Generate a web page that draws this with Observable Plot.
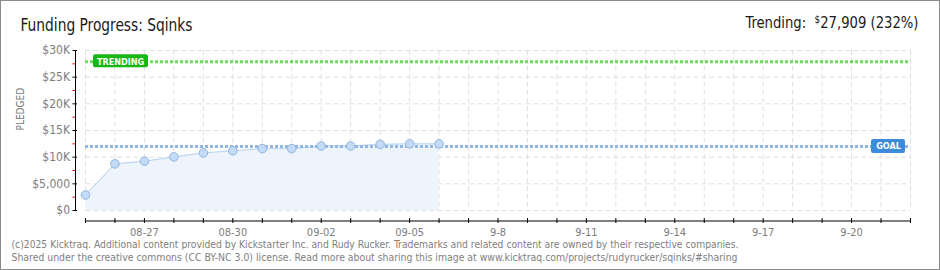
<!DOCTYPE html>
<html><head><meta charset="utf-8">
<script src="https://cdn.jsdelivr.net/npm/d3@7"></script>
<script src="https://cdn.jsdelivr.net/npm/@observablehq/plot@0.6"></script>
<style>
body{margin:0;background:#fff}
#wrap{position:relative;width:940px;height:270px;overflow:hidden}
#border{position:absolute;left:0;top:0;width:940px;height:270px;box-sizing:border-box;border:1px solid #8a8a8a;pointer-events:none}
</style>
</head><body>
<div id="wrap"><div id="chart"></div><div id="border"></div></div>
<script>
// ---- data ----
const dates = ["2025-08-25","2025-08-26","2025-08-27","2025-08-28","2025-08-29","2025-08-30","2025-08-31","2025-09-01","2025-09-02","2025-09-03","2025-09-04","2025-09-05","2025-09-06"];
const pledged = [2900, 8750, 9250, 10050, 10800, 11200, 11600, 11600, 12100, 12100, 12400, 12500, 12500];
const goalValue = 12000;
const trendingValue = 27909;
const trendingPercent = 232;
const campaignStart = "2025-08-25";
const campaignEnd = "2025-09-22";
const xLabelDates = ["2025-08-27","2025-08-30","2025-09-02","2025-09-05","2025-09-08","2025-09-11","2025-09-14","2025-09-17","2025-09-20"];
const xLabelTexts = ["08-27","08-30","09-02","09-05","9-8","9-11","9-14","9-17","9-20"];
const yTickValues = [0, 5000, 10000, 15000, 20000, 25000, 30000];
const yTickLabels = ["$0","$5,000","$10K","$15K","$20K","$25K","$30K"];
const yMinorTicks = [2500, 7500, 12500, 17500, 22500, 27500];
const titleText = "Funding Progress: Sqinks";
const trendingText = "Trending: $27,909 (232%)";
const footerLines = [
  "(c)2025 Kicktraq. Additional content provided by Kickstarter Inc. and Rudy Rucker. Trademarks and related content are owned by their respective companies.",
  "Shared under the creative commons (CC BY-NC 3.0) license. Read more about sharing this image at www.kicktraq.com/projects/rudyrucker/sqinks/#sharing"
];

// ---- build ----
const parse = d3.utcParse("%Y-%m-%d");
const data = dates.map((d, i) => ({date: parse(d), value: pledged[i]}));
const start = parse(campaignStart), end = parse(campaignEnd);
const dayTicks = d3.utcDay.range(start, d3.utcDay.offset(end, 1));
const labelMap = new Map(xLabelDates.map((d, i) => [+parse(d), xLabelTexts[i]]));
const yLabelMap = new Map(yTickValues.map((v, i) => [v, yTickLabels[i]]));
const font = "'DejaVu Sans Condensed','DejaVu Sans',sans-serif";

const chart = Plot.plot({
  width: 940, height: 270,
  marginLeft: 85, marginRight: 30, marginTop: 50, marginBottom: 60,
  style: {fontFamily: font, background: "transparent", overflow: "visible"},
  x: {type: "utc", domain: [start, end]},
  y: {domain: [0, 30000]},
  marks: [
    Plot.gridX(dayTicks, {stroke: "#e0e0e0", strokeOpacity: 1, strokeDasharray: "5,3"}),
    Plot.gridY(yTickValues, {stroke: "#e0e0e0", strokeOpacity: 1, strokeDasharray: "5,3"}),
    Plot.areaY(data, {x: "date", y: "value", fill: "#edf4fc"}),
    Plot.lineY(data, {x: "date", y: "value", stroke: "#b7d2f0", strokeWidth: 1}),
    Plot.ruleY([goalValue], {stroke: "#93b7e3", strokeWidth: 3, strokeDasharray: "3,2"}),
    Plot.ruleY([trendingValue], {stroke: "#6edb5e", strokeWidth: 3, strokeDasharray: "3,2"}),
    Plot.dot(data, {x: "date", y: "value", r: 4.3, fill: "#c3dbf6", stroke: "#91b4de", strokeWidth: 1}),
    // badges
    Plot.rect([trendingValue], {x1: () => start, x2: () => start, y1: d => d, y2: d => d,
      insetLeft: 8, insetRight: -63, insetTop: -7, insetBottom: -6, fill: "#17b617", rx: 2}),
    Plot.text([trendingValue], {x: () => start, y: d => d, dx: 35, dy: 0, text: () => "TRENDING",
      fill: "white", fontWeight: "bold", fontSize: 9, fontFamily: font, letterSpacing: "0.5px"}),
    Plot.rect([goalValue], {x1: () => end, x2: () => end, y1: d => d, y2: d => d,
      insetLeft: -39, insetRight: 5, insetTop: -7, insetBottom: -7, fill: "#3d8bdb", rx: 2}),
    Plot.text([goalValue], {x: () => end, y: d => d, dx: -22, text: () => "GOAL",
      fill: "white", fontWeight: "bold", fontSize: 9, fontFamily: font, letterSpacing: "0.5px"}),
    // axes
    Plot.ruleX([start], {dx: -10, stroke: "black"}),
    Plot.axisY({ticks: yMinorTicks, tickFormat: () => "", tickSize: 2.5, dx: -10, stroke: "#e00000", label: null}),
    Plot.axisY({ticks: yTickValues, tickFormat: d => yLabelMap.get(d), tickSize: 4.5, dx: -8, tickPadding: 3,
      stroke: "black", fill: "#7d7d7d", fontSize: 12, label: null}),
    Plot.ruleY([0], {dy: 10.5, stroke: "black"}),
    Plot.axisX({ticks: dayTicks, tickFormat: d => labelMap.get(+d) ?? "", tickSize: 5, dy: 8, tickPadding: 5,
      stroke: "black", fill: "#7d7d7d", fontSize: 11, label: null}),
    // texts
    Plot.text([titleText], {text: d => d, frameAnchor: "top-left", dx: -65, dy: -19.5, lineAnchor: "bottom",
      textAnchor: "start", fontSize: 17, fill: "#1a1a1a", className: "ttl"}),
    Plot.text([trendingText], {text: d => d, frameAnchor: "top-right", dx: 8, dy: -23, lineAnchor: "bottom",
      textAnchor: "end", fontSize: 15, fill: "#1a1a1a", className: "trd"}),
    Plot.text(["PLEDGED"], {text: d => d, frameAnchor: "left", dx: -65, dy: 0, rotate: -90,
      fontSize: 10, fill: "#777", letterSpacing: "1.5px"}),
    Plot.text([footerLines[0]], {text: d => d, frameAnchor: "bottom-left", dx: -74, dy: 37.5, lineAnchor: "bottom",
      textAnchor: "start", fontSize: 10, fill: "#808080", className: "ft1"}),
    Plot.text([footerLines[1]], {text: d => d, frameAnchor: "bottom-left", dx: -74, dy: 50.5, lineAnchor: "bottom",
      textAnchor: "start", fontSize: 10, fill: "#808080", className: "ft2"})
  ]
});
document.getElementById("chart").appendChild(chart);

// fit text widths to the reference
function fit(cls, w) {
  const t = chart.querySelector("g." + cls + " text");
  if (t) { t.setAttribute("textLength", w); t.setAttribute("lengthAdjust", "spacingAndGlyphs"); }
}
fit("ttl", 172);
fit("ft1", 727);
fit("ft2", 726);
// superscript dollar in trending header
const tt = chart.querySelector("g.trd text");
if (tt) {
  tt.textContent = "";
  const ns = "http://www.w3.org/2000/svg";
  const a = document.createElementNS(ns, "tspan"); a.textContent = "Trending:  "; tt.appendChild(a);
  const b = document.createElementNS(ns, "tspan"); b.textContent = "$"; b.setAttribute("font-size", "10"); b.setAttribute("dy", "-5"); tt.appendChild(b);
  const c = document.createElementNS(ns, "tspan"); c.textContent = d3.format(",")(trendingValue) + " (" + trendingPercent + "%)"; c.setAttribute("dy", "5"); tt.appendChild(c);
  tt.setAttribute("textLength", 173); tt.setAttribute("lengthAdjust", "spacingAndGlyphs");
}
</script>
</body></html>
